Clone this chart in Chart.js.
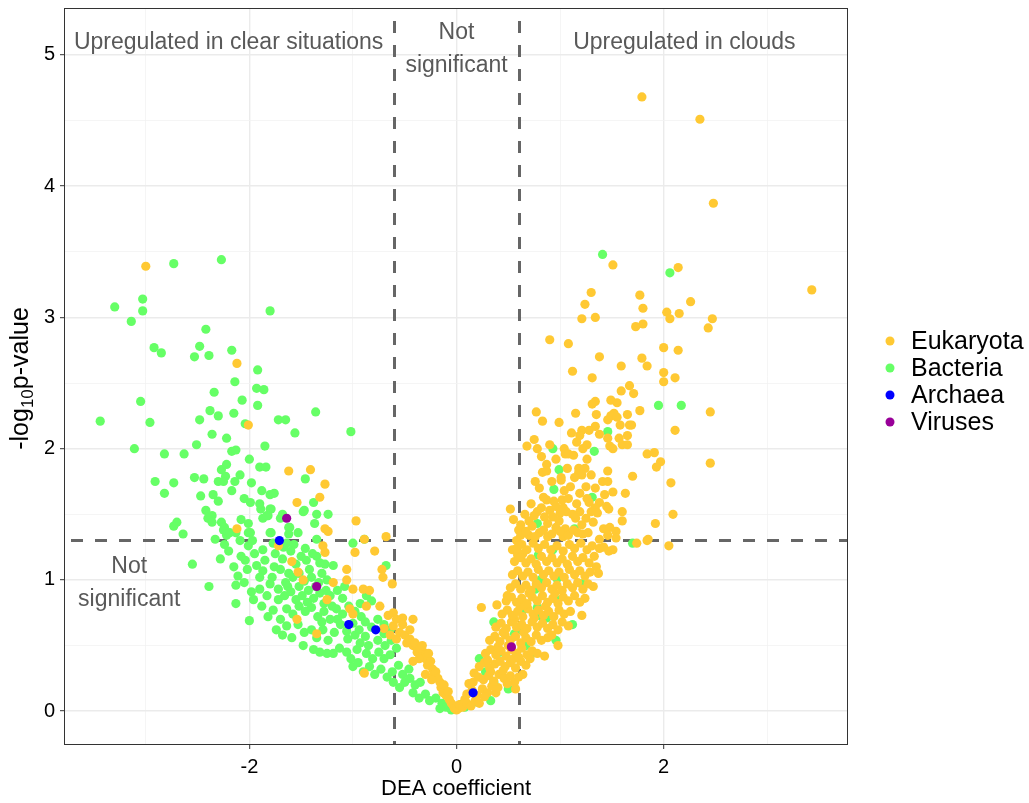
<!DOCTYPE html>
<html>
<head>
<meta charset="utf-8">
<title>DEA volcano plot</title>
<script src="https://cdn.jsdelivr.net/npm/chart.js@4.4.1/dist/chart.umd.min.js"></script>
<style>
  html, body { margin: 0; padding: 0; background: #ffffff; }
  canvas { display: block; }
</style>
</head>
<body>
<canvas id="volcano" width="1029" height="803"></canvas>
<script>
// Axis ticks (minor grid lines at the odd / half steps, labels only on the majors)
const xTickValues = [-3, -2, -1, 0, 1, 2, 3];
const xTickLabels = [-2, 0, 2];
const yTickValues = [0, 0.5, 1, 1.5, 2, 2.5, 3, 3.5, 4, 4.5, 5];
const yTickLabels = [0, 1, 2, 3, 4, 5];

// Significance thresholds
const coefThresholds = [-0.6, 0.6];
const pThreshold = 1.301; // -log10(0.05)

// Points as [DEA coefficient, -log10 p-value]
const eukaryota = [
  [-3.00,3.39],[-2.12,2.65],[-2.01,2.18],[-1.62,1.83],[-1.41,1.84],[-1.27,1.73],[-1.32,1.63],[-1.54,1.59],
  [-0.97,1.45],[-0.68,1.33],[-1.27,1.39],[-1.24,1.37],[-2.12,1.39],[-1.72,1.26],[-1.29,1.26],[-1.27,1.21],
  [-1.25,0.85],[-1.19,0.98],[-1.06,1.08],[-0.98,1.21],[-0.89,1.31],[-0.79,1.22],[-0.72,1.08],[-0.71,1.02],
  [-0.62,0.97],[-1.06,1.00],[-1.00,0.93],[-0.90,0.93],[-0.84,0.92],[-1.03,0.78],[-1.00,0.74],[-0.87,0.80],
  [-0.74,0.80],[-0.61,0.75],[-0.52,0.71],[-0.42,0.70],[-0.61,0.65],[-1.35,0.59],[-1.54,0.70],[-1.59,1.14],
  [-1.53,1.06],[-1.48,1.00],[-0.89,0.29],[-0.58,0.55],[-0.48,0.52],[-0.42,0.50],[-0.32,0.45],[-0.23,0.32],
  [-0.16,0.22],[-0.13,0.14],[-0.07,0.09],[0.00,0.03],
  [-0.55,0.60],[-0.50,0.58],[-0.45,0.55],[-0.40,0.52],[-0.38,0.45],[-0.35,0.48],[-0.30,0.40],[-0.28,0.35],
  [-0.25,0.38],[-0.22,0.28],[-0.20,0.30],[-0.18,0.25],[-0.15,0.18],[-0.12,0.20],[-0.10,0.12],[-0.08,0.15],
  [-0.05,0.06],[-0.03,0.04],[-0.02,0.02],[0.02,0.02],[-0.45,0.62],[-0.52,0.66],[-0.58,0.70],[-0.66,0.73],
  [-0.70,0.63],[-0.64,0.58],[-0.33,0.50],[-0.27,0.44],[-0.36,0.40],[-0.42,0.38],[-0.24,0.24],[-0.30,0.28],
  [1.79,4.68],[2.35,4.51],[2.48,3.87],
  [1.51,3.40],[2.14,3.38],[3.43,3.21],[1.30,3.19],[1.77,3.17],[2.26,3.12],[1.24,3.10],[1.80,3.07],
  [2.03,3.04],[2.15,3.03],[2.06,2.99],[2.47,2.99],[1.21,2.99],[1.34,3.00],[1.80,2.95],[1.73,2.93],
  [2.43,2.92],[0.90,2.83],[1.08,2.80],[2.00,2.77],[2.14,2.75],[1.38,2.70],[1.79,2.69],[1.59,2.63],
  [1.84,2.63],[1.12,2.59],[2.00,2.58],[1.31,2.54],[2.11,2.54],[2.00,2.51],[1.67,2.48],[1.59,2.44],
  [1.71,2.42],[1.49,2.37],[1.55,2.35],[1.34,2.36],[1.31,2.34],[2.45,2.28],[1.77,2.29],[0.77,2.28],
  [1.15,2.27],[1.35,2.26],[1.52,2.27],[1.49,2.25],[1.46,2.22],[1.55,2.24],[1.65,2.26],[0.83,2.21],
  [0.99,2.20],[1.34,2.17],[1.58,2.18],[1.67,2.18],[1.69,2.18],[1.11,2.12],[1.21,2.14],[1.28,2.14],
  [1.38,2.11],[1.46,2.08],[1.65,2.10],[1.57,2.08],[2.11,2.14],[0.75,2.07],[1.19,2.10],[1.16,2.05],
  [1.26,2.03],[1.22,2.00],[0.90,2.03],[0.68,2.02],[0.78,2.00],[0.82,1.94],[1.04,2.00],[1.05,1.96],
  [1.08,1.96],[1.48,2.02],[1.51,2.00],[1.60,2.03],[1.65,2.03],[1.84,1.96],[1.91,1.97],[1.97,1.90],
  [1.93,1.86],[2.45,1.89],[1.26,1.92],[0.87,1.88],[0.83,1.82],[0.87,1.83],[1.18,1.85],[1.24,1.85],
  [1.18,1.82],[1.21,1.80],[1.46,1.83],[1.01,1.78],[1.01,1.76],[1.70,1.79],[2.07,1.74],[0.80,1.70],
  [1.04,1.68],[1.10,1.71],[1.25,1.71],[1.34,1.70],[1.41,1.75],[1.46,1.75],[1.51,1.67],[1.63,1.66],
  [0.87,1.61],[1.02,1.61],[1.19,1.66],[1.43,1.65],[1.38,1.59],[1.45,1.56],[1.28,1.59],[0.52,1.54],
  [0.55,1.46],[0.60,1.38],[0.82,1.55],[0.90,1.53],[0.96,1.56],[1.00,1.51],[1.06,1.52],[0.85,1.48],
  [0.93,1.48],[1.15,1.47],[1.19,1.52],[1.25,1.47],[1.32,1.44],[1.34,1.55],[1.36,1.51],[1.47,1.54],
  [1.60,1.52],[1.60,1.45],[1.92,1.43],[2.09,1.50],[0.70,1.45],[0.75,1.49],[0.73,1.41],[0.70,1.34],
  [0.96,1.40],[1.05,1.39],[1.17,1.36],[1.22,1.35],[1.42,1.39],[1.48,1.40],[1.54,1.37],[1.54,1.32],
  [0.80,1.36],[0.88,1.33],[1.03,1.33],[1.85,1.31],[1.38,1.31],[1.84,1.30],[2.05,1.26],[1.74,1.28],
  [0.54,1.23],[0.59,1.19],[1.35,1.10],[1.37,1.05],[1.51,1.23],[1.38,1.24],[1.32,0.95],[1.24,0.86],
  [1.21,0.73],[0.24,0.79],[0.39,0.81],[0.49,0.88],[1.08,0.65],[0.98,0.50],[0.85,0.42],[0.71,0.40],
  [0.64,0.28],[0.57,0.17],[0.38,0.14],[0.12,0.21],[0.17,0.29],[0.00,0.01],
  [0.62,1.42],[0.66,1.50],[0.72,1.58],[0.78,1.52],[0.84,1.63],[0.88,1.43],[0.94,1.60],[0.99,1.45],
  [1.03,1.55],[1.08,1.62],[1.12,1.50],[1.16,1.58],[1.21,1.42],[1.26,1.62],[1.30,1.52],[0.76,1.75],
  [0.92,1.75],[1.07,1.85],[1.14,1.78],[1.30,1.80],[0.96,1.92],[1.13,1.95],[0.58,1.30],[0.64,1.20],
  [0.03,0.05],[0.06,0.03],[0.10,0.06],[0.14,0.04],[0.18,0.08],[0.22,0.06],[0.08,0.09],
  [0.10,0.13],[0.15,0.16],[0.20,0.12],[0.25,0.17],[0.30,0.14],[0.34,0.19],[0.27,0.11],[0.40,0.18],
  [0.16,0.22],[0.21,0.26],[0.26,0.24],[0.31,0.27],[0.36,0.23],[0.41,0.28],[0.46,0.25],[0.52,0.27],
  [0.56,0.22],[0.60,0.26],[0.33,0.30],[0.49,0.21],
  [0.22,0.34],[0.27,0.37],[0.32,0.33],[0.37,0.36],[0.42,0.38],[0.47,0.34],[0.52,0.37],[0.57,0.33],
  [0.62,0.38],[0.67,0.35],[0.30,0.39],[0.45,0.31],[0.55,0.40],
  [0.28,0.44],[0.33,0.47],[0.38,0.43],[0.43,0.46],[0.48,0.42],[0.53,0.47],[0.58,0.44],[0.63,0.48],
  [0.68,0.43],[0.73,0.46],[0.78,0.44],[0.40,0.49],[0.60,0.41],[0.50,0.50],
  [0.32,0.54],[0.37,0.57],[0.42,0.53],[0.47,0.58],[0.52,0.54],[0.57,0.57],[0.62,0.52],[0.67,0.56],
  [0.72,0.53],[0.77,0.58],[0.82,0.54],[0.88,0.56],[0.45,0.60],[0.65,0.60],[0.92,0.58],
  [0.38,0.64],[0.43,0.67],[0.48,0.63],[0.53,0.68],[0.58,0.64],[0.63,0.66],[0.68,0.63],[0.73,0.68],
  [0.78,0.64],[0.83,0.67],[0.88,0.63],[0.93,0.66],[0.98,0.62],[1.02,0.68],[0.56,0.70],[0.75,0.71],
  [0.44,0.74],[0.49,0.77],[0.54,0.73],[0.59,0.76],[0.64,0.72],[0.69,0.78],[0.74,0.74],[0.79,0.77],
  [0.84,0.73],[0.89,0.76],[0.94,0.72],[0.99,0.77],[1.04,0.74],[1.10,0.76],[0.62,0.80],[0.86,0.80],
  [0.48,0.84],[0.53,0.87],[0.58,0.83],[0.63,0.86],[0.68,0.82],[0.73,0.87],[0.78,0.84],[0.83,0.88],
  [0.88,0.83],[0.93,0.86],[0.98,0.82],[1.03,0.87],[1.08,0.84],[1.14,0.88],[1.19,0.83],[0.70,0.90],[0.95,0.90],
  [0.52,0.94],[0.57,0.97],[0.62,0.93],[0.67,0.96],[0.72,0.92],[0.77,0.97],[0.82,0.94],[0.87,0.98],
  [0.92,0.93],[0.97,0.96],[1.02,0.92],[1.07,0.97],[1.12,0.94],[1.17,0.98],[1.22,0.93],[1.27,0.97],
  [0.54,1.04],[0.59,1.07],[0.64,1.03],[0.69,1.06],[0.74,1.02],[0.79,1.08],[0.84,1.04],[0.89,1.07],
  [0.94,1.03],[0.99,1.06],[1.04,1.02],[1.09,1.08],[1.14,1.04],[1.19,1.07],[1.24,1.03],[1.29,1.06],
  [0.56,1.14],[0.62,1.17],[0.67,1.13],[0.72,1.16],[0.77,1.12],[0.82,1.18],[0.87,1.14],[0.92,1.17],
  [0.97,1.13],[1.02,1.16],[1.07,1.12],[1.12,1.18],[1.17,1.14],[1.22,1.17],[1.28,1.13],[1.33,1.18],
  [0.58,1.24],[0.63,1.27],[0.68,1.23],[0.74,1.28],[0.79,1.24],[0.85,1.27],[0.91,1.23],[0.97,1.26],
  [1.03,1.22],[1.09,1.27],[1.14,1.24],[1.20,1.28],[1.26,1.23],[1.31,1.26],[1.42,1.25],[1.47,1.22],
  [0.62,1.34],[0.67,1.37],[0.76,1.33],[0.84,1.38],[0.92,1.35],[1.00,1.37],[1.08,1.34],[1.13,1.38],
  [1.27,1.36],[1.46,1.34]
];

const bacteria = [
  [-2.73,3.41],[-2.27,3.44],[-3.30,3.08],[-3.03,3.14],[-3.03,3.05],[-3.14,2.97],[-1.80,3.05],[-2.42,2.91],
  [-2.92,2.77],[-2.85,2.73],[-2.48,2.78],[-2.53,2.70],[-2.39,2.71],[-2.17,2.75],[-1.92,2.60],[-2.14,2.51],
  [-1.93,2.46],[-1.86,2.45],[-2.34,2.43],[-2.07,2.37],[-1.92,2.33],[-3.05,2.36],[-1.36,2.28],[-3.44,2.21],
  [-2.96,2.20],[-2.38,2.29],[-2.48,2.22],[-2.30,2.25],[-2.15,2.27],[-2.04,2.19],[-1.72,2.22],[-1.65,2.22],
  [-1.02,2.13],[-1.56,2.12],[-2.36,2.11],[-2.22,2.08],[-3.11,2.00],[-2.82,1.96],[-2.63,1.96],[-2.51,2.03],
  [-2.17,1.98],[-2.13,1.99],[-1.85,2.02],[-2.00,1.92],[-1.90,1.86],[-1.84,1.86],[-2.27,1.84],[-2.22,1.88],
  [-2.09,1.80],[-2.23,1.79],[-2.91,1.75],[-2.73,1.74],[-2.53,1.78],[-2.44,1.77],[-2.30,1.75],[-2.25,1.75],
  [-2.14,1.75],[-1.98,1.74],[-1.46,1.77],[-2.82,1.66],[-2.47,1.64],[-2.35,1.65],[-2.17,1.68],[-1.88,1.68],
  [-1.80,1.65],[-1.76,1.66],[-1.38,1.59],[-2.30,1.60],[-2.05,1.62],[-1.99,1.59],[-2.42,1.53],[-1.89,1.54],
  [-1.79,1.54],[-1.47,1.53],[-1.68,1.50],[-2.36,1.49],[-2.40,1.47],[-2.36,1.44],[-1.87,1.47],[-1.82,1.49],
  [-1.35,1.50],[-1.24,1.50],[-1.37,1.43],[-2.27,1.44],[-2.08,1.46],[-2.70,1.44],[-2.73,1.41],[-2.01,1.43],
  [-1.62,1.40],[-2.64,1.35],[-2.24,1.40],[-2.22,1.34],[-2.13,1.36],[-2.01,1.36],[-1.79,1.36],[-1.53,1.36],
  [-1.62,1.35],[-0.89,1.31],[-1.35,1.31],[-2.33,1.31],
  [-2.25,1.38],[-2.19,1.36],[-2.24,1.27],[-2.28,1.16],[-2.39,0.95],[-2.55,1.12],[-2.13,0.82],[-2.13,0.96],
  [-2.04,1.15],[-2.00,0.69],[-1.99,1.36],[-2.01,1.26],[-1.97,1.30],[-2.09,1.30],[-2.11,1.03],[-1.98,0.91],
  [-1.90,0.93],[-1.83,0.88],[-1.93,1.11],[-1.87,1.07],[-1.90,1.58],[-1.80,1.54],[-1.83,1.49],[-1.70,1.47],
  [-1.80,1.36],[-1.70,1.28],[-1.61,1.40],[-1.64,1.28],[-1.48,1.52],[-1.87,1.23],[-1.77,1.28],
  [-1.35,1.18],[-1.32,1.13],[-1.27,1.12],[-1.19,1.11],[-1.00,1.28],[-0.68,1.11],
  [-2.20,1.22],[-2.15,1.10],[-2.08,1.18],[-2.02,1.08],[-1.95,1.20],[-1.90,1.02],[-1.85,1.15],[-1.80,0.97],
  [-1.76,1.10],[-1.72,0.85],[-1.67,1.25],[-1.63,0.95],[-1.57,1.27],[-1.52,1.05],[-1.46,1.24],[-1.44,0.83],
  [-1.39,1.20],[-1.33,0.98],[-1.30,0.68],[-1.26,0.92],[-1.20,0.80],[-1.15,0.70],[-1.08,0.95],[-1.05,0.55],
  [-0.98,0.58],[-0.92,0.72],[-0.85,0.50],[-2.05,0.98],[-1.96,0.85],[-1.88,0.80],[-1.82,0.72],[-1.74,0.62],
  [-1.68,0.58],
  [-1.75,1.20],[-1.68,1.16],[-1.60,1.22],[-1.55,1.12],[-1.50,1.18],[-1.45,1.15],[-1.42,1.08],[-1.62,1.05],
  [-1.70,1.08],[-1.78,1.02],[-1.65,0.98],[-1.58,1.02],[-1.52,0.95],[-1.47,0.99],[-1.40,1.02],[-1.36,0.95],
  [-1.30,1.05],[-1.25,1.00],[-1.72,0.93],[-1.66,0.88],[-1.60,0.91],[-1.55,0.85],[-1.49,0.88],[-1.43,0.92],
  [-1.38,0.86],[-1.32,0.90],[-1.28,0.82],[-1.22,0.88],[-1.15,0.92],[-1.10,0.86],[-1.77,0.77],[-1.70,0.70],
  [-1.64,0.78],[-1.58,0.74],[-1.52,0.80],[-1.46,0.76],[-1.40,0.79],[-1.34,0.72],[-1.28,0.76],[-1.22,0.70],
  [-1.16,0.78],[-1.10,0.74],[-1.04,0.80],[-0.98,0.76],[-0.93,0.82],[-0.87,0.88],[-0.82,0.84],
  [-1.64,0.65],[-1.59,0.56],[-1.53,0.66],[-1.47,0.60],[-1.40,0.62],[-1.35,0.56],[-1.29,0.62],[-1.24,0.54],
  [-1.18,0.60],[-1.12,0.66],[-1.06,0.61],[-1.00,0.67],[-0.94,0.62],[-0.88,0.68],[-0.82,0.64],[-0.76,0.70],
  [-0.70,0.66],[-0.64,0.62],
  [-1.48,0.50],[-1.38,0.47],[-1.32,0.45],[-1.25,0.44],[-1.19,0.44],[-1.13,0.48],[-1.06,0.45],[-1.02,0.40],
  [-0.96,0.47],[-0.93,0.52],[-0.87,0.44],[-0.81,0.40],[-0.75,0.45],[-0.69,0.50],[-0.63,0.54],[-0.58,0.48],
  [-0.88,0.57],[-1.00,0.34],[-0.95,0.37],
  [-0.90,0.30],[-0.84,0.34],[-0.79,0.28],[-0.73,0.32],[-0.67,0.26],[-0.62,0.30],[-0.56,0.35],[-0.52,0.28],
  [-0.46,0.32],[-0.61,0.22],[-0.55,0.18],[-0.50,0.22],[-0.45,0.25],[-0.40,0.20],[-0.35,0.22],[-0.42,0.14],
  [-0.36,0.10],[-0.30,0.13],[-0.26,0.08],[-0.20,0.10],[-0.14,0.06],[-0.10,0.03],[-0.16,0.02],[-0.05,0.01],
  [-0.70,0.40],[-0.64,0.43],[-0.76,0.54],[-0.70,0.59],
  [1.41,3.48],[2.06,3.34],[1.95,2.33],[2.17,2.33],[1.46,2.13],[0.93,2.00],[1.33,1.98],[0.99,1.84],
  [0.94,1.69],[1.31,1.63],[1.70,1.28],[0.78,1.43],[1.14,1.39],[0.79,1.19],[0.93,1.23],[0.81,1.00],
  [0.97,1.01],[1.21,0.97],[0.76,0.93],[0.95,0.86],[0.78,0.79],[0.64,0.77],[0.80,0.73],[0.87,0.71],
  [1.12,0.66],[0.36,0.68],[0.56,0.59],[0.96,0.54],[0.67,0.50],[0.73,0.44],[0.22,0.40],[0.50,0.17],
  [0.36,0.22],[0.33,0.08],[0.19,0.07],[0.08,0.03],[0.04,0.05],[0.28,0.30],[0.42,0.45],[0.60,0.62]
];

const archaea = [[-1.71,1.30],[-1.04,0.66],[-0.78,0.62],[0.16,0.14]];

const viruses = [[-1.64,1.47],[-1.35,0.95],[0.53,0.49]];

const domainNames = ['Eukaryota', 'Bacteria', 'Archaea', 'Viruses'];
const domainColors = ['#ffc933', '#66ff66', '#0000ff', '#990099'];
const domainPoints = [eukaryota, bacteria, archaea, viruses];
// Bacteria sit underneath, then eukaryotes, then the rare domains on top
const drawOrder = [2, 3, 1, 0];

const FONT = "'Liberation Sans', Arial, Helvetica, sans-serif";

const overlayPlugin = {
  id: 'overlay',
  beforeDatasetsDraw(chart) {
    const { ctx, chartArea: a, scales: { x, y } } = chart;
    ctx.save();
    ctx.strokeStyle = '#666666';
    ctx.lineWidth = 3;
    ctx.setLineDash([12, 12]);
    coefThresholds.forEach(v => {
      const px = Math.round(x.getPixelForValue(v)) + 0.5;
      ctx.beginPath();
      ctx.moveTo(px, a.top + 12);
      ctx.lineTo(px, a.bottom);
      ctx.stroke();
    });
    const py = Math.round(y.getPixelForValue(pThreshold)) + 0.5;
    ctx.beginPath();
    ctx.moveTo(a.left + 6, py);
    ctx.lineTo(a.right, py);
    ctx.stroke();
    ctx.restore();
  },
  afterDatasetsDraw(chart) {
    const { ctx, chartArea: a, scales: { x, y } } = chart;
    ctx.save();
    // region labels
    ctx.fillStyle = '#595959';
    ctx.font = '23px ' + FONT;
    ctx.textAlign = 'center';
    ctx.textBaseline = 'middle';
    const put = (t, vx, vy) => ctx.fillText(t, x.getPixelForValue(vx), y.getPixelForValue(vy));
    put('Upregulated in clear situations', -2.2, 5.09);
    put('Not', 0, 5.17);
    put('significant', 0, 4.92);
    put('Upregulated in clouds', 2.2, 5.09);
    put('Not', -3.16, 1.10);
    put('significant', -3.16, 0.85);
    // panel border
    ctx.strokeStyle = '#333333';
    ctx.lineWidth = 1;
    ctx.setLineDash([]);
    ctx.strokeRect(a.left - 0.5, a.top - 0.5, a.right - a.left + 1, a.bottom - a.top + 1);
    ctx.restore();
  },
  afterDraw(chart) {
    const { ctx, chartArea: a } = chart;
    ctx.save();
    ctx.fillStyle = '#000000';
    // x axis title
    ctx.font = '22px ' + FONT;
    ctx.textAlign = 'center';
    ctx.textBaseline = 'middle';
    ctx.fillText('DEA coefficient', (a.left + a.right) / 2, 789);
    // y axis title with subscript
    const big = '25px ' + FONT, small = '17px ' + FONT;
    const parts = [['-log', big, 0], ['10', small, 7], ['p-value', big, 0]];
    let total = 0;
    parts.forEach(p => { ctx.font = p[1]; total += ctx.measureText(p[0]).width; });
    ctx.translate(21, (a.top + a.bottom) / 2 + 2);
    ctx.rotate(-Math.PI / 2);
    ctx.textAlign = 'left';
    let cx = -total / 2;
    parts.forEach(p => {
      ctx.font = p[1];
      ctx.fillText(p[0], cx, p[2]);
      cx += ctx.measureText(p[0]).width;
    });
    ctx.restore();

    // legend
    ctx.save();
    ctx.font = '25px ' + FONT;
    ctx.textAlign = 'left';
    ctx.textBaseline = 'middle';
    chart.data.datasets
      .slice()
      .sort((p, q) => p.legendIndex - q.legendIndex)
      .forEach((ds, i) => {
        const yy = 341 + i * 27;
        ctx.fillStyle = ds.backgroundColor;
        ctx.beginPath();
        ctx.arc(890, yy, 4.5, 0, Math.PI * 2);
        ctx.fill();
        ctx.fillStyle = '#000000';
        ctx.fillText(ds.label, 911, yy + 1);
      });
    ctx.restore();
  }
};

const datasets = domainNames.map((name, i) => ({
  label: name,
  legendIndex: i,
  data: domainPoints[i].map(p => ({ x: p[0], y: p[1] })),
  backgroundColor: domainColors[i],
  borderWidth: 0,
  pointRadius: 4.6,
  pointHoverRadius: 4.6,
  order: drawOrder[i]
}));

const isIn = (arr, v) => arr.some(t => Math.abs(t - v) < 1e-9);

// Keep the panel edges fixed: no extra room reserved for half-labels at the ends
const noEdgePadding = s => {
  s.paddingTop = 0; s.paddingBottom = 0; s.paddingLeft = 0; s.paddingRight = 0;
};

new Chart(document.getElementById('volcano'), {
  type: 'scatter',
  data: { datasets },
  options: {
    responsive: false,
    animation: false,
    events: [],
    layout: { padding: { top: 9, right: 182, left: 0, bottom: 0 } },
    plugins: { legend: { display: false }, tooltip: { enabled: false } },
    scales: {
      x: {
        type: 'linear',
        min: -3.78,
        max: 3.77,
        afterBuildTicks: s => { s.ticks = xTickValues.map(v => ({ value: v })); },
        afterFit: s => { s.height = 59; noEdgePadding(s); },
        border: { display: false },
        grid: {
          color: c => isIn(xTickLabels, c.tick.value) ? '#ebebeb' : '#f3f3f3',
          lineWidth: c => isIn(xTickLabels, c.tick.value) ? 1.4 : 0.8,
          drawTicks: true,
          tickLength: 5,
          tickWidth: 1,
          tickColor: c => isIn(xTickLabels, c.tick.value) ? '#333333' : 'rgba(0,0,0,0)'
        },
        ticks: {
          autoSkip: false,
          maxRotation: 0,
          padding: 6,
          color: '#000000',
          font: { family: FONT, size: 20 },
          callback: v => isIn(xTickLabels, v) ? String(v) : ''
        }
      },
      y: {
        type: 'linear',
        min: -0.25,
        max: 5.35,
        afterBuildTicks: s => { s.ticks = yTickValues.map(v => ({ value: v })); },
        afterFit: s => { s.width = 65; noEdgePadding(s); },
        border: { display: false },
        grid: {
          color: c => isIn(yTickLabels, c.tick.value) ? '#ebebeb' : '#f3f3f3',
          lineWidth: c => isIn(yTickLabels, c.tick.value) ? 1.4 : 0.8,
          drawTicks: true,
          tickLength: 5,
          tickWidth: 1,
          tickColor: c => isIn(yTickLabels, c.tick.value) ? '#333333' : 'rgba(0,0,0,0)'
        },
        ticks: {
          autoSkip: false,
          padding: 5,
          color: '#000000',
          font: { family: FONT, size: 20 },
          callback: v => isIn(yTickLabels, v) ? String(v) : ''
        }
      }
    }
  },
  plugins: [overlayPlugin]
});
</script>
</body>
</html>
